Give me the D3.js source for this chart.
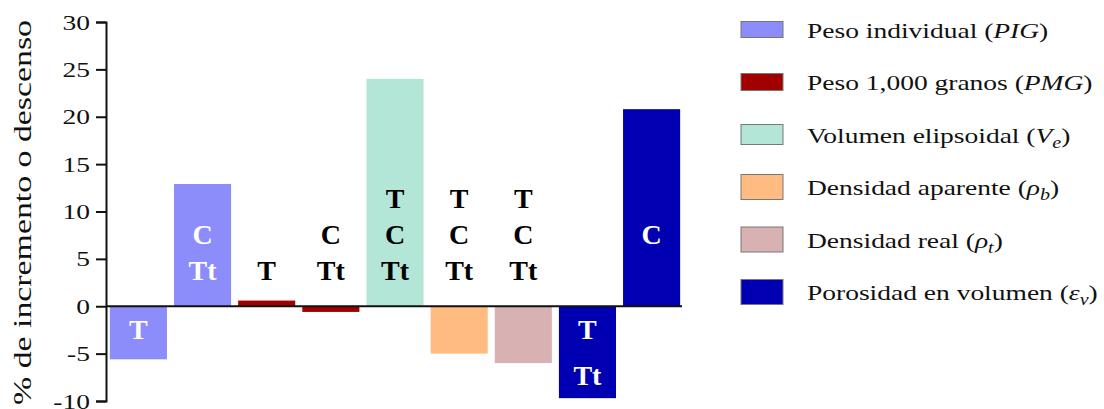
<!DOCTYPE html>
<html>
<head>
<meta charset="utf-8">
<script src="https://cdn.jsdelivr.net/npm/d3@7"></script>
<style>
  body { margin: 0; background: #fff; }
  svg { display: block; }
</style>
</head>
<body>
<svg id="chart" width="1104" height="409"></svg>
<script>
// ---- data ----
const seriesNames = [
  "Peso individual", "Peso 1,000 granos", "Volumen elipsoidal",
  "Densidad aparente", "Densidad real", "Porosidad en volumen"
];
const seriesColors = ["#8c8cfa", "#a00000", "#b3e6d6", "#ffbb80", "#d8b2b2", "#0000b2"];

// one entry per bar: which series it belongs to, and its % change
const barSeries = [0, 0, 1, 1, 2, 3, 4, 5, 5];
const barValues = [-5.6, 12.9, 0.6, -0.6, 24.0, -5.0, -6.0, -9.7, 20.8];

// significance letters stacked over / inside each bar ("" = empty row)
const barLabels = [
  ["T"],
  ["", "C", "Tt"],
  ["", "", "T"],
  ["", "C", "Tt"],
  ["T", "C", "Tt"],
  ["T", "C", "Tt"],
  ["T", "C", "Tt"],
  ["T", "Tt"],
  ["", "C", ""]
];
// letters sit above the zero line, except where they are written inside a falling bar
const labelBelow = [true, false, false, false, false, false, false, true, false];

const yTicks = [-10, -5, 0, 5, 10, 15, 20, 25, 30];
const yTitle = "% de incremento o descenso";

// legend entries: [text, kind] where kind is "", "i" (italic) or "s" (italic subscript)
const legendLabels = [
  [["Peso individual ("], ["PIG", "i"], [")"]],
  [["Peso 1,000 granos ("], ["PMG", "i"], [")"]],
  [["Volumen elipsoidal ("], ["V", "i"], ["e", "s"], [")"]],
  [["Densidad aparente ("], ["\u03c1", "i"], ["b", "s"], [")"]],
  [["Densidad real ("], ["\u03c1", "i"], ["t", "s"], [")"]],
  [["Porosidad en volumen ("], ["\u03b5", "i"], ["v", "s"], [")"]]
];

// ---- layout ----
const serif = '"Liberation Serif"';
const ink = "#111";
const plotLeft = 106, plotRight = 684, zeroEnd = 682;
const textStretch = 1.25;               // wide serif lettering
const swatchHeights = [16, 17, 20, 25, 25, 25];

const svg = d3.select("#chart");

const x = d3.scaleBand()
  .domain(d3.range(barValues.length))
  .range([plotLeft, plotRight])
  .paddingInner(0.11)
  .paddingOuter(0.06);

const y = d3.scaleLinear().domain([-10, 30]).range([401, 22]);

// bars
svg.append("g")
  .selectAll("rect")
  .data(barValues)
  .join("rect")
  .attr("x", (d, i) => x(i))
  .attr("width", x.bandwidth())
  .attr("y", d => y(Math.max(0, d)))
  .attr("height", d => Math.abs(y(d) - y(0)))
  .attr("fill", (d, i) => seriesColors[barSeries[i]]);

// zero baseline
svg.append("line")
  .attr("x1", plotLeft).attr("x2", zeroEnd)
  .attr("y1", y(0)).attr("y2", y(0))
  .attr("stroke", ink).attr("stroke-width", 2);

// y axis
const yAxis = d3.axisLeft(y)
  .tickValues(yTicks)
  .tickSize(10)
  .tickFormat(d => String(d));

const gy = svg.append("g")
  .attr("transform", `translate(${plotLeft},0)`)
  .call(yAxis)
  .attr("font-family", null)
  .attr("font-size", null);
gy.select(".domain").attr("stroke", ink).attr("stroke-width", 2);
gy.selectAll(".tick line").attr("stroke", ink).attr("stroke-width", 2);
gy.selectAll(".tick text")
  .style("font-family", serif)
  .style("font-size", "22px")
  .attr("fill", ink)
  .attr("x", -16 / textStretch)
  .attr("transform", `scale(${textStretch},1)`);

// y axis title
svg.append("text")
  .attr("transform", `translate(31,${(22 + 405) / 2 - 1}) rotate(-90)`)
  .attr("text-anchor", "middle")
  .style("font-family", serif)
  .style("font-size", "26px")
  .attr("fill", ink)
  .attr("textLength", 385)
  .attr("lengthAdjust", "spacingAndGlyphs")
  .text(yTitle);

// significance letters
const posRow0 = 208, posStep = 36.2;
const negRow0 = 339, negStep = 46;
barLabels.forEach((lines, i) => {
  const v = barValues[i];
  const col = seriesColors[barSeries[i]];
  lines.forEach((t, j) => {
    if (!t) return;
    const by = labelBelow[i] ? negRow0 + j * negStep : posRow0 + j * posStep;
    const top = Math.min(y(v), y(0)), bottom = Math.max(y(v), y(0));
    const inside = by > top && by < bottom;
    const light = d3.lab(col).l > 75;
    svg.append("text")
      .attr("x", x(i) + x.bandwidth() / 2)
      .attr("y", by)
      .attr("text-anchor", "middle")
      .style("font-family", serif)
      .style("font-weight", "bold")
      .style("font-size", "28px")
      .attr("fill", inside && !light ? "#fff" : "#000")
      .text(t);
  });
});

// legend
const legend = svg.append("g");
legendLabels.forEach((parts, i) => {
  const base = 37.5 + i * 52.5;
  const h = swatchHeights[i];
  legend.append("rect")
    .attr("x", 741).attr("y", base - 8 - h / 2)
    .attr("width", 42).attr("height", h)
    .attr("fill", seriesColors[i])
    .attr("stroke", "#777").attr("stroke-width", 1);

  const t = legend.append("text")
    .attr("transform", `translate(807,${base}) scale(${textStretch},1)`)
    .style("font-family", serif)
    .style("font-size", "22px")
    .attr("fill", ink);
  let shifted = false;
  parts.forEach(([s, kind]) => {
    const sp = t.append("tspan").text(s);
    if (kind === "i") sp.style("font-style", "italic");
    if (kind === "s") {
      sp.style("font-style", "italic").style("font-size", "16px").attr("dy", 5);
      shifted = true;
    } else if (shifted) {
      sp.attr("dy", -5);
      shifted = false;
    }
  });
});
</script>
</body>
</html>
